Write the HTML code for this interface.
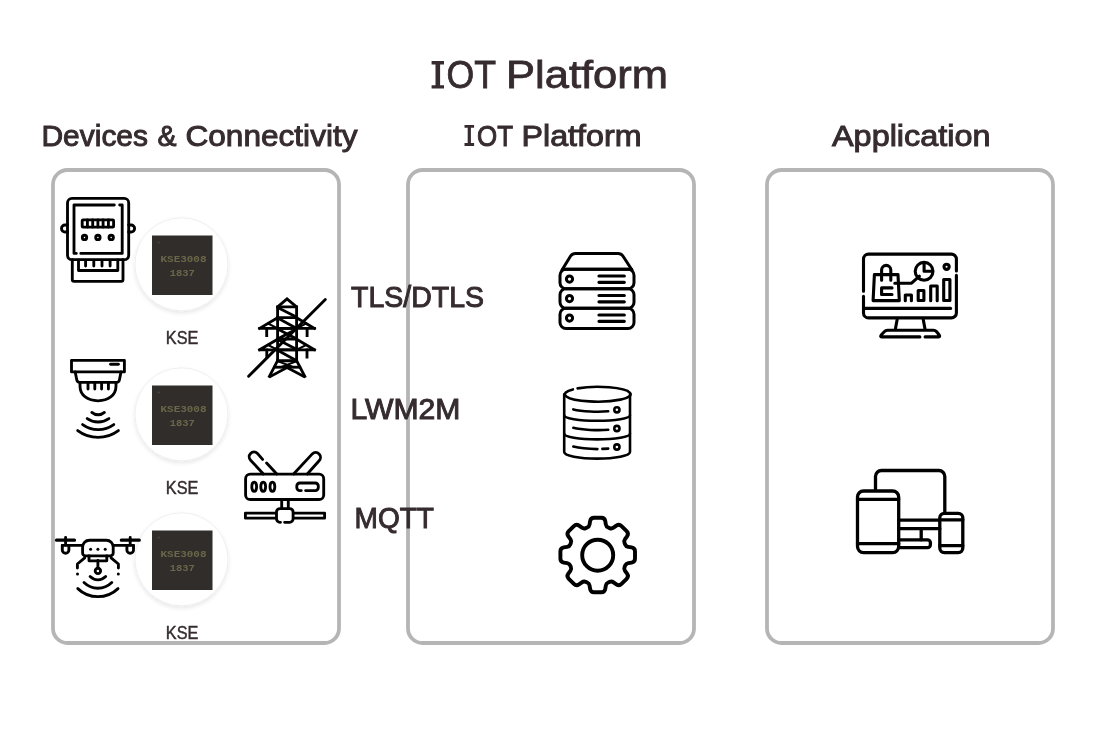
<!DOCTYPE html>
<html><head><meta charset="utf-8">
<style>
html,body{margin:0;padding:0;background:#fff;}
body{width:1100px;height:734px;overflow:hidden;position:relative;}
svg{position:absolute;left:0;top:0;will-change:transform;}
text{font-family:"Liberation Sans",sans-serif;}
</style></head>
<body>
<svg width="1100" height="734" viewBox="0 0 1100 734">
<defs>
  <filter id="sh" x="-20%" y="-20%" width="140%" height="140%">
    <feGaussianBlur in="SourceAlpha" stdDeviation="2"/>
    <feOffset dy="2" result="b"/>
    <feComponentTransfer><feFuncA type="linear" slope="0.10"/></feComponentTransfer>
    <feMerge><feMergeNode/><feMergeNode in="SourceGraphic"/></feMerge>
  </filter>
  <filter id="bl" x="-10%" y="-30%" width="120%" height="160%"><feGaussianBlur stdDeviation="0.7"/></filter>
</defs>
<!-- boxes -->
<g fill="none" stroke="#b5b5b5" stroke-width="3.8">
  <rect x="53" y="170" width="286" height="473" rx="14.5"/>
  <rect x="408" y="170" width="286" height="473" rx="14.5"/>
  <rect x="767" y="170" width="286" height="473" rx="14.5"/>
</g>
<g fill="#362c2f" font-weight="normal" stroke="#362c2f" stroke-width="1">
  <text x="446.50" y="88.1" font-size="38.8" stroke-width="0.8" textLength="49.50" lengthAdjust="spacingAndGlyphs">OT</text>
  <text x="506.00" y="88.1" font-size="38.8" stroke-width="0.8" textLength="162.00" lengthAdjust="spacingAndGlyphs">Platform</text>
  <path stroke="none" d="M431.6 61.1 h12.4 v3.3 h-3.9 v20.9 h3.9 v3.3 h-12.4 v-3.3 h3.9 v-20.9 h-3.9 Z"/>
  <text x="41.50" y="145.5" font-size="30" textLength="106.50" lengthAdjust="spacingAndGlyphs">Devices</text>
  <text x="157.50" y="145.5" font-size="30" textLength="19.00" lengthAdjust="spacingAndGlyphs">&amp;</text>
  <text x="185.50" y="145.5" font-size="30" textLength="172.00" lengthAdjust="spacingAndGlyphs">Connectivity</text>
  <text x="477.00" y="145.5" font-size="30" textLength="36.00" lengthAdjust="spacingAndGlyphs">OT</text>
  <text x="521.50" y="145.5" font-size="30" textLength="120.00" lengthAdjust="spacingAndGlyphs">Platform</text>
  <path stroke="none" d="M464.5 125 h9.6 v2.8 h-3.2 v15.3 h3.2 v2.8 h-9.6 v-2.8 h3.2 v-15.3 h-3.2 Z"/>
  <text x="832.00" y="145.5" font-size="30" textLength="158.50" lengthAdjust="spacingAndGlyphs">Application</text>
  <text x="351.00" y="307" font-size="30" textLength="133.00" lengthAdjust="spacingAndGlyphs">TLS/DTLS</text>
  <text x="350.50" y="418.7" font-size="30" textLength="110.00" lengthAdjust="spacingAndGlyphs">LWM2M</text>
  <text x="354.50" y="527.5" font-size="30" textLength="79.50" lengthAdjust="spacingAndGlyphs">MQTT</text>
</g>
<g fill="#362c2f" font-size="18.5" stroke="#362c2f" stroke-width="0.45">
  <text x="165.8" y="343.8" textLength="32.5" lengthAdjust="spacingAndGlyphs">KSE</text>
  <text x="165.8" y="493.8" textLength="32.5" lengthAdjust="spacingAndGlyphs">KSE</text>
  <text x="165.8" y="638.8" textLength="32.5" lengthAdjust="spacingAndGlyphs">KSE</text>
</g>



<!-- chips -->
<g id="chips">
  <g transform="translate(0,0)">
    <circle cx="181.5" cy="264.3" r="46.5" fill="#fff" stroke="#efefef" stroke-width="1" filter="url(#sh)"/>
    <rect x="152" y="235.5" width="60.5" height="59.5" fill="#312d2b"/>
    <g filter="url(#bl)" fill="#6a6749"><text x="160.5" y="262" font-size="9" style="font-family:&quot;Liberation Mono&quot;,monospace" font-weight="bold" textLength="46" lengthAdjust="spacingAndGlyphs">KSE3008</text>
    <text x="169.8" y="276" font-size="9.5" style="font-family:&quot;Liberation Mono&quot;,monospace" font-weight="bold" textLength="25" lengthAdjust="spacingAndGlyphs">1837</text><circle cx="158.8" cy="242.4" r="1" fill="#4a4746"/></g>
  </g>
  <g transform="translate(0,150)">
    <circle cx="181.5" cy="264.3" r="46.5" fill="#fff" stroke="#efefef" stroke-width="1" filter="url(#sh)"/>
    <rect x="152" y="235.5" width="60.5" height="59.5" fill="#312d2b"/>
    <g filter="url(#bl)" fill="#6a6749"><text x="160.5" y="262" font-size="9" style="font-family:&quot;Liberation Mono&quot;,monospace" font-weight="bold" textLength="46" lengthAdjust="spacingAndGlyphs">KSE3008</text>
    <text x="169.8" y="276" font-size="9.5" style="font-family:&quot;Liberation Mono&quot;,monospace" font-weight="bold" textLength="25" lengthAdjust="spacingAndGlyphs">1837</text><circle cx="158.8" cy="242.4" r="1" fill="#4a4746"/></g>
  </g>
  <g transform="translate(0,295)">
    <circle cx="181.5" cy="264.3" r="46.5" fill="#fff" stroke="#efefef" stroke-width="1" filter="url(#sh)"/>
    <rect x="152" y="235.5" width="60.5" height="59.5" fill="#312d2b"/>
    <g filter="url(#bl)" fill="#6a6749"><text x="160.5" y="262" font-size="9" style="font-family:&quot;Liberation Mono&quot;,monospace" font-weight="bold" textLength="46" lengthAdjust="spacingAndGlyphs">KSE3008</text>
    <text x="169.8" y="276" font-size="9.5" style="font-family:&quot;Liberation Mono&quot;,monospace" font-weight="bold" textLength="25" lengthAdjust="spacingAndGlyphs">1837</text><circle cx="158.8" cy="242.4" r="1" fill="#4a4746"/></g>
  </g>
</g>

<!-- ICONS -->
<g fill="none" stroke="#000" stroke-width="2.85" stroke-linecap="round" stroke-linejoin="round">
<g id="meter">
  <rect x="67.5" y="198.4" width="61.2" height="61.3" rx="4.5"/>
  <path d="M67.5 225 h-2.5 a3.3 3.3 0 0 0 0 7 h2.5"/>
  <path d="M128.6 225 h2.5 a3.3 3.3 0 0 1 0 7 h-2.5"/>
  <path d="M72.3 259.7 V279.5 a1.8 1.8 0 0 0 1.8 1.8 H121.2 a1.8 1.8 0 0 0 1.8 -1.8 V259.7"/>
  <path d="M78.5 260 V270.5 H117.8 V260"/>
  <path d="M85.6 260.5 v5.6 M93.8 260.5 v5.6 M102 260.5 v5.6 M110.1 260.5 v5.6"/>
  <path d="M114.3 205 H74 V253.4 H76.3 M80.8 253.4 H122.2 V205 h-2.5"/>
  <rect x="82.2" y="219.9" width="31.4" height="7.2" rx="0.8"/>
  <path d="M87.4 220 v7 M92.7 220 v7 M97.9 220 v7 M103.1 220 v7 M108.4 220 v7"/>
  <circle cx="84.5" cy="237.4" r="2.2"/>
  <circle cx="97.9" cy="237.4" r="2.2"/>
  <circle cx="111.2" cy="237.4" r="2.2"/>
</g>
<g id="smoke">
  <rect x="71.5" y="360.3" width="52.9" height="11.6"/>
  <path d="M110.6 364.2 H118.4"/>
  <path d="M75.2 372 L76.8 380 Q77.3 382.3 79.6 382.3 H116.6 Q118.9 382.3 119.4 380 L121 372"/>
  <path d="M80 382.3 V386 C80 395.5 88 400.8 98 400.8 C108 400.8 116 395.5 116 386 V382.3"/>
  <path d="M88 383 v6 M94.8 383 v6 M101.6 383 v6 M108.4 383 v6"/>
  <path d="M91.8 412.4 A9.5 9.5 0 0 0 104.4 412.4"/>
  <path d="M87.2 418.6 A19 19 0 0 0 108.9 418.6"/>
  <path d="M82.6 424.6 A27 27 0 0 0 113.8 424.6"/>
  <path d="M77.7 430.6 A34 34 0 0 0 118.4 430.6"/>
</g>
<g id="drone">
  <path d="M56.5 540.2 H74.5 M121.3 540.2 H139.3" stroke-width="3.2"/>
  <path d="M65.6 537.3 V545 M130.2 537.3 V545"/>
  <path d="M62.3 545.4 V549.9 a3.3 3.3 0 0 0 6.6 0 V545.4" stroke-width="2.9"/>
  <path d="M126.9 545.4 V549.9 a3.3 3.3 0 0 0 6.6 0 V545.4" stroke-width="2.9"/>
  <path d="M62.3 545.4 H82.6 M113.2 545.4 H133.5"/>
  <path d="M82.6 552.9 V547 a6.8 6.8 0 0 1 6.8 -6.8 H106.4 a6.8 6.8 0 0 1 6.8 6.8 V552.9 a3 3 0 0 1 -3 3 H85.6 a3 3 0 0 1 -3 -3 Z"/>
  <path d="M89 556 V560.8 H106.8 V556"/>
  <path d="M97.9 560.5 V568"/>
  <circle cx="97.9" cy="570.9" r="2.7"/>
  <path d="M84.7 557.9 L77.4 564 V568.1 M111.1 557.9 L118.4 564 V568.1"/>
  <path d="M90.1 576.6 A11 11 0 0 0 105.7 576.6"/>
  <path d="M84 582.6 A20 20 0 0 0 111.8 582.6"/>
  <path d="M77.8 588.6 A29 29 0 0 0 118 588.6"/>
</g>
<g id="drone-dots" fill="#000" stroke="none">
  <circle cx="90.6" cy="549.3" r="1.5"/><circle cx="97.9" cy="549.3" r="1.5"/><circle cx="105.2" cy="549.3" r="1.5"/>
  <circle cx="77.5" cy="573.9" r="1.5"/><circle cx="118.3" cy="573.9" r="1.5"/>
</g>
<g id="tower" stroke-linecap="square" stroke-linejoin="miter">
  <path d="M277.6 360.7 V306.9 L287 298.8 L296.6 306.9 V360.7"/>
  <path d="M277.6 306.9 H296.6 M277.6 317.6 H296.6 M277.6 328.4 H296.6 M277.6 339 H296.6 M277.6 349.8 H296.6 M277.6 360.7 H296.6"/>
  <path d="M278.5 307.9 L295.9 316.8 M278.5 318.5 L295.9 328 M278.5 329.5 L295.9 338.5 M295.9 329.5 L278.5 338.5 M278.5 340 L295.9 349 M278.5 350.8 L295.4 360"/>
  <path d="M259.6 328.4 H314.5 M259.6 328.4 L277.6 317.8 M314.5 328.4 L296.6 317.8"/>
  <path d="M268 323.5 L277.6 328.4 M306 323.5 L296.6 328.4" stroke-width="2"/>
  <path d="M266.7 328.4 V335.5 M307.1 328.4 V335.5"/>
  <path d="M259.6 349.8 H314.5 M259.6 349.8 L277.6 339.2 M314.5 349.8 L296.6 339.2"/>
  <path d="M268 345 L277.6 349.8 M306 345 L296.6 349.8" stroke-width="2"/>
  <path d="M266.8 349.8 V357 M307 349.8 V357"/>
  <path d="M277.6 360.7 L269.4 376.4 M296.6 360.7 L304.8 376.4"/>
  <path d="M274.5 367.2 H299.7"/>
  <path d="M270.5 376.4 L287 367.5 L303.7 376.4"/>
  <path d="M278.5 361.5 L293 367 M295.8 361.5 L281 367" stroke-width="2"/>
  <path d="M248.6 376.3 L325.3 299.4" stroke-linecap="round"/>
</g>
<g id="router">
  <rect x="245.6" y="474.1" width="78.1" height="25.4" rx="4.6"/>
  <path d="M263.4 474 L250.6 460.2 A4.8 4.8 0 0 1 257.4 453.4 L262.6 459.4 M266.6 463 L276.8 474"/>
  <path d="M293.6 474 L312.3 453.9 A4.8 4.8 0 0 1 319.1 460.7 L307.3 474"/>
  <ellipse cx="254.2" cy="486.7" rx="2.4" ry="4.6"/>
  <ellipse cx="263.2" cy="486.7" rx="2.4" ry="4.6"/>
  <ellipse cx="272.4" cy="486.7" rx="2.4" ry="4.6"/>
  <path d="M301.3 490.6 H299.8 a3 3 0 0 1 -3 -3 V486 a3 3 0 0 1 3 -3 H315.3 a3 3 0 0 1 3 3 V487.6 a3 3 0 0 1 -3 3 H305.6"/>
  <path d="M281.7 499.5 V508.5 M288.3 499.5 V508.5"/>
  <rect x="245.4" y="513.1" width="79.2" height="5.1"/>
  <path d="M280.5 522.3 H280 a3.5 3.5 0 0 1 -3.5 -3.5 V512.1 a3.5 3.5 0 0 1 3.5 -3.5 H289.6 a3.5 3.5 0 0 1 3.5 3.5 V518.8 a3.5 3.5 0 0 1 -3.5 3.5 H284.6" fill="#fff"/>
</g>
<g id="server" stroke-width="3">
  <path d="M562 270 L570.6 256 Q572.4 253.4 575.5 253.4 H618 Q621.1 253.4 622.9 256 L632 270"/>
  <path d="M563 269.3 H631.5"/>
  <rect x="560" y="269.3" width="74" height="19.5" rx="6"/>
  <rect x="560" y="288.8" width="74" height="19.5" rx="6"/>
  <rect x="560" y="308.3" width="74" height="20.2" rx="6"/>
  <circle cx="569.5" cy="279.1" r="3.1"/>
  <circle cx="569.5" cy="298.6" r="3.1"/>
  <circle cx="569.5" cy="318.1" r="3.1"/>
  <path d="M599 276 H624.3 M599 282.3 H624.3 M599 295.5 H624.3 M599 301.8 H624.3 M599 315 H624.3 M599 321.3 H624.3" stroke-width="3.2"/>
</g>
<g id="db" stroke-width="2.6">
  <path d="M577.6 388.4 A32.9 7.4 0 1 1 572.9 389.4"/>
  <path d="M564.2 394.4 V452 A32.9 6.6 0 0 0 630 452 V394.4"/>
  <path d="M564.2 415.2 A32.9 5.6 0 0 0 630 415.2"/>
  <path d="M564.2 433.8 A32.9 5.6 0 0 0 630 433.8"/>
  <path d="M573.3 409.4 C582 411.6 598 412.2 608.2 411.3"/>
  <path d="M573.3 427.8 C582 430 598 430.6 608.2 429.8"/>
  <path d="M573.3 446.6 C580 448.3 589 449 597.4 449.1 M602.4 448.9 C604.5 448.8 606.5 448.7 608.2 448.6"/>
  <circle cx="616.9" cy="409.8" r="2.6"/>
  <circle cx="616.9" cy="428.5" r="2.6"/>
  <circle cx="616.9" cy="447" r="2.6"/>
</g>
<g id="gear" stroke-width="3.9">
  <path d="M625.15 544.45 Q626.00 546.50 628.19 546.86 L631.66 547.44 Q635.00 548.00 635.00 551.39 L635.00 558.61 Q635.00 562.00 631.66 562.56 L628.19 563.14 Q626.00 563.50 625.15 565.55 L624.57 566.95 Q623.72 569.00 625.01 570.81 L627.06 573.67 Q629.02 576.43 626.63 578.82 L621.52 583.93 Q619.13 586.32 616.37 584.36 L613.51 582.31 Q611.70 581.02 609.65 581.87 L608.25 582.45 Q606.20 583.30 605.84 585.49 L605.26 588.96 Q604.70 592.30 601.31 592.30 L594.09 592.30 Q590.70 592.30 590.14 588.96 L589.56 585.49 Q589.20 583.30 587.15 582.45 L585.75 581.87 Q583.70 581.02 581.89 582.31 L579.03 584.36 Q576.27 586.32 573.88 583.93 L568.77 578.82 Q566.38 576.43 568.34 573.67 L570.39 570.81 Q571.68 569.00 570.83 566.95 L570.25 565.55 Q569.40 563.50 567.21 563.14 L563.74 562.56 Q560.40 562.00 560.40 558.61 L560.40 551.39 Q560.40 548.00 563.74 547.44 L567.21 546.86 Q569.40 546.50 570.25 544.45 L570.83 543.05 Q571.68 541.00 570.39 539.19 L568.34 536.33 Q566.38 533.57 568.77 531.18 L573.88 526.07 Q576.27 523.68 579.03 525.64 L581.89 527.69 Q583.70 528.98 585.75 528.13 L587.15 527.55 Q589.20 526.70 589.56 524.51 L590.14 521.04 Q590.70 517.70 594.09 517.70 L601.31 517.70 Q604.70 517.70 605.26 521.04 L605.84 524.51 Q606.20 526.70 608.25 527.55 L609.65 528.13 Q611.70 528.98 613.51 527.69 L616.37 525.64 Q619.13 523.68 621.52 526.07 L626.63 531.18 Q629.02 533.57 627.06 536.33 L625.01 539.19 Q623.72 541.00 624.57 543.05 Z"/>
  <circle cx="597.7" cy="555.2" r="15.5"/>
</g>
<g id="dash" stroke-width="3.1">
  <path d="M863.5 291.3 V259.1 a5 5 0 0 1 5 -5 H951.4 a5 5 0 0 1 5 5 V270.9 M956.4 275.4 V312.9 a5 5 0 0 1 -5 5 H868.5 a5 5 0 0 1 -5 -5 V296.2"/>
  <path d="M864.8 308.4 H950.6"/>
  <path d="M897.2 319.3 L895.3 329.5 M923.2 319.3 L925.1 329.5"/>
  <path d="M919.9 336.9 H881.6 Q880 336.9 881.2 335 L884.5 331.5 Q885.6 330.2 887.5 330.2 H933.5 Q935.3 330.2 936.4 331.5 L939.2 335 Q940.4 336.9 938.5 336.9 H925.1"/>
  <path d="M874.4 274.6 H898 L899.3 300.6 H873.1 Z"/>
  <path d="M881.6 280.3 V270 a4.6 4.6 0 0 1 9.2 0 V280.3"/>
  <path d="M892 287.9 H881.6 V294.5 H892"/>
  <path d="M894.8 283.2 H911.6 L919.4 276.2"/>
  <circle cx="924.1" cy="271.3" r="8.9"/>
  <path d="M924.1 263.5 V271.3 H932.3"/>
  <circle cx="946.6" cy="266.8" r="2.6"/>
  <path d="M905.3 300.8 V295 H911.4 V300.8"/>
  <rect x="918.2" y="290.5" width="5.7" height="10"/>
  <path d="M930.7 300.8 V286 H937.2 V300.8"/>
  <rect x="943.7" y="279.5" width="6.2" height="21"/>
</g>
<g id="devices" stroke-width="3.3">
  <path d="M875.5 490.1 V476.5 a6 6 0 0 1 6 -6 H938.8 a6 6 0 0 1 6 6 V511.7"/>
  <path d="M898.7 520.2 H939.8 M898.7 528.7 H939.8"/>
  <path d="M921.2 528.7 V539.8"/>
  <path d="M898.7 539.8 H927.5 a2.9 2.9 0 0 1 2.9 2.9 V544.7 a2.9 2.9 0 0 1 -2.9 2.9 H898.7"/>
  <rect x="857.5" y="491" width="41.2" height="61.6" rx="6"/>
  <path d="M857.5 499.3 H898.7 M857.5 543.7 H898.7"/>
  <rect x="939.8" y="513.3" width="23" height="39.3" rx="4.5"/>
  <path d="M939.8 519.8 H962.8 M939.8 545.6 H962.8"/>
</g>
</g>
</svg>
</body></html>
